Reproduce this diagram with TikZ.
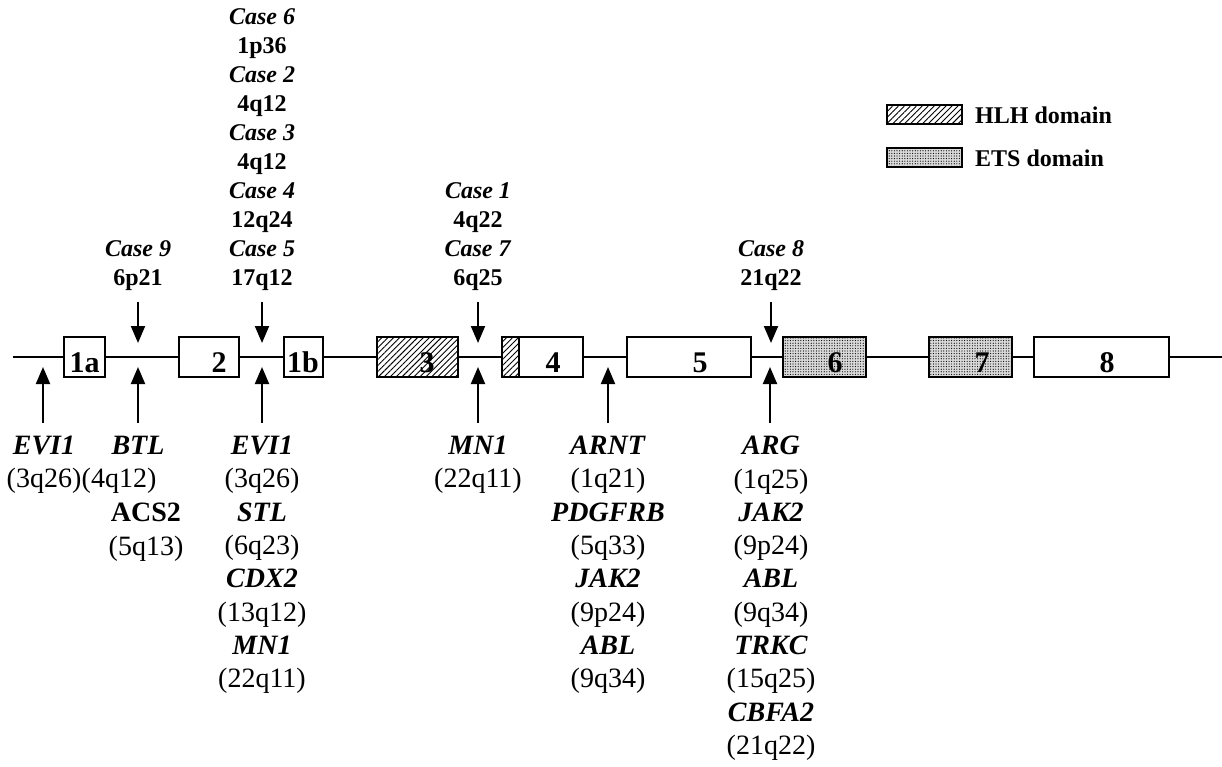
\documentclass[tikz,border=0pt]{standalone}
\usepackage{fontspec}
\setmainfont{Liberation Serif}
\usetikzlibrary{arrows.meta,patterns.meta}
\newcommand\casefont{\fontsize{24}{29}\selectfont\bfseries}
\newcommand\genefont{\fontsize{28}{33.3}\selectfont}
\newcommand\gn[1]{\textbf{\textit{#1}}}

\begin{document}
\begin{tikzpicture}[x=1pt,y=-1pt,
    exon/.style={draw,line width=2.4pt,fill=white},
    hlh/.style={draw,line width=2.4pt,preaction={fill=white},pattern={Lines[angle=45,distance=4.2pt,line width=0.9pt]}},
    ets/.style={draw,line width=2.4pt,preaction={fill=gray!30},pattern={Dots[radius=0.6pt,distance=2.6pt]}},
    xlab/.style={anchor=base,inner sep=0pt,font=\fontsize{30}{30}\selectfont\bfseries},
    casecol/.style={anchor=north,align=center,inner sep=0pt,font=\casefont},
    genecol/.style={anchor=north,align=center,inner sep=0pt,font=\genefont},
    brk/.style={line width=2pt,-{Triangle[length=17pt,width=14pt]}}]
  \useasboundingbox (0,0) rectangle (1222,767);
  \coordinate (L0) at (13,357); \coordinate (L1) at (1222,357);
  \draw[line width=2.6pt] (L0)--(L1);
  \foreach \a/\b in {64/105,179/239,284/323,519/583,627/751,1034/1169} \draw[exon] (\a,337) rectangle (\b,377);
  \draw[hlh] (377,337) rectangle (458,377); \draw[hlh] (502,337) rectangle (519,377);
  \draw[ets] (783,337) rectangle (866,377); \draw[ets] (929,337) rectangle (1012,377);
  \foreach \x/\n/\t in {84.5/x1a/1a,219/x2/2,303/x1b/1b,427/x3/3,553/x4/4,700/x5/5,835/x6/6,982/x7/7,1107/x8/8}
    \node[xlab] (\n) at (\x,372) {\t};
  \foreach \x/\n in {138/a,262/b,478/c,771/d} {\coordinate (dt\n) at (\x,302); \coordinate (dh\n) at (\x,343); \draw[brk] (dt\n)--(dh\n);}
  \foreach \x/\n in {43/a,138/b,262/c,478/d,608/e,770/f} {\coordinate (ut\n) at (\x,423); \coordinate (uh\n) at (\x,367); \draw[brk] (ut\n)--(uh\n);}
  \node[casecol] (cb) at (262,8) {\textit{Case 6}\\1p36\\\textit{Case 2}\\4q12\\\textit{Case 3}\\4q12\\\textit{Case 4}\\12q24\\\textit{Case 5}\\17q12};
  \node[casecol] (ca) at (138,240) {\textit{Case 9}\\6p21};
  \node[casecol] (cc) at (478,182) {\textit{Case 1}\\4q22\\\textit{Case 7}\\6q25};
  \node[casecol] (cd) at (771,240) {\textit{Case 8}\\21q22};
  \node[genecol] (ga) at (44,436) {\gn{EVI1}\\(3q26)};
  \node[genecol] (gb) at (138,436) {\gn{BTL}};
  \node[genecol,anchor=south west] (gb2) at (ga.south east) {(4q12)};
  \node[genecol] (gb3) at (146,503) {\textbf{ACS2}\\(5q13)};
  \node[genecol] (gc) at (262,436) {\gn{EVI1}\\(3q26)\\\gn{STL}\\(6q23)\\\gn{CDX2}\\(13q12)\\\gn{MN1}\\(22q11)};
  \node[genecol] (gd) at (478,436) {\gn{MN1}\\(22q11)};
  \node[genecol] (ge) at (608,436) {\gn{ARNT}\\(1q21)\\\gn{PDGFRB}\\(5q33)\\\gn{JAK2}\\(9p24)\\\gn{ABL}\\(9q34)};
  \node[genecol] (gf) at (771,436) {\gn{ARG}\\(1q25)\\\gn{JAK2}\\(9p24)\\\gn{ABL}\\(9q34)\\\gn{TRKC}\\(15q25)\\\gn{CBFA2}\\(21q22)};
  \draw[line width=1.2pt,preaction={fill=white},pattern={Lines[angle=45,distance=4.2pt,line width=0.9pt]}] (887,105) rectangle (962,124);
  \draw[line width=1.2pt,preaction={fill=gray!30},pattern={Dots[radius=0.6pt,distance=2.6pt]}] (887,148) rectangle (962,167);
  \node[anchor=west,inner sep=0pt,font=\fontsize{24}{24}\selectfont\bfseries] (hlh) at (975,115) {HLH domain};
  \node[anchor=west,inner sep=0pt,font=\fontsize{24}{24}\selectfont\bfseries] (ets) at (975,158) {ETS domain};
\end{tikzpicture}
\end{document}
